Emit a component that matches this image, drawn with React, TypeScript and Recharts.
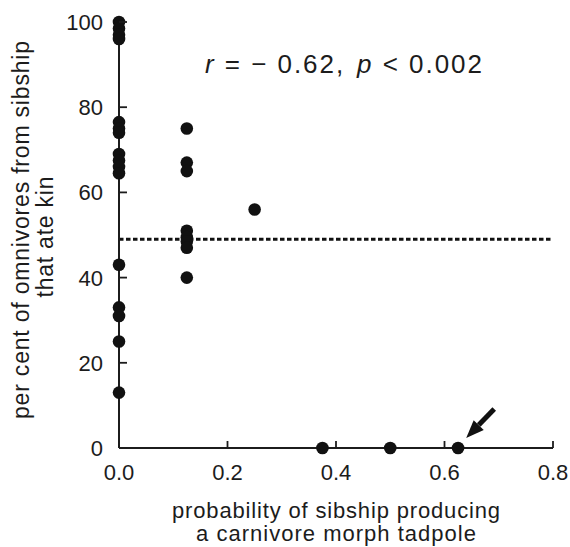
import { ScatterChart, Scatter, XAxis, YAxis, ReferenceLine, ReferenceDot } from "recharts";

const FONT = '"Liberation Sans", Arial, Helvetica, sans-serif';
const INK = "#1c1c1c";

// sibships with probability 0 of producing a carnivore
const pctAtZero = [100, 98.5, 97, 96, 76.5, 75, 74, 69, 67.5, 66, 64.5, 43, 33, 31, 25, 13];
// sibships with probability 0.125
const pctAtEighth = [75, 67, 65, 51, 49.5, 48.5, 47, 40];
// remaining sibships
const otherProb = [0.25, 0.375, 0.5, 0.625];
const otherPct = [56, 0, 0, 0];

const xTicks = [0, 0.2, 0.4, 0.6, 0.8];
const yTicks = [0, 20, 40, 60, 80, 100];
const meanLine = 49;

const points = [
  ...pctAtZero.map((y) => ({ x: 0, y })),
  ...pctAtEighth.map((y) => ({ x: 0.125, y })),
  ...otherProb.map((x, i) => ({ x, y: otherPct[i] })),
];

const Dot = (p: any) => <circle cx={p.cx} cy={p.cy} r={6.3} fill="#111" />;

const YTick = (p: any) => (
  <g>
    <line x1={p.x} x2={p.x + 8} y1={p.y} y2={p.y} stroke={INK} strokeWidth={1.8} />
    <text x={p.x - 16} y={p.y} dy="0.36em" textAnchor="end" fontSize={22} fill={INK} fontFamily={FONT}>
      {p.payload.value}
    </text>
  </g>
);

const XTick = (p: any) => (
  <g>
    <line x1={p.x} x2={p.x} y1={p.y} y2={p.y - 7} stroke={INK} strokeWidth={1.8} />
    <text x={p.x} y={p.y + 32} textAnchor="middle" fontSize={22} fill={INK} fontFamily={FONT}>
      {Number(p.payload.value).toFixed(1)}
    </text>
  </g>
);

const XLabel = (props: any) => {
  const vb = props.viewBox || { x: 119, y: 448, width: 434 };
  const cx = vb.x + vb.width / 2;
  return (
    <g fontSize={22} fill={INK} fontFamily={FONT}>
      <text x={cx} y={vb.y + 70} textAnchor="middle" textLength={328}>
        probability of sibship producing
      </text>
      <text x={cx} y={vb.y + 93} textAnchor="middle" textLength={280}>
        a carnivore morph tadpole
      </text>
    </g>
  );
};

const YLabel = () => (
  <g fontSize={23} fill={INK} fontFamily={FONT}>
    <text x={29} y={230} textAnchor="middle" transform="rotate(-90, 29, 230)" textLength={378}>
      per cent of omnivores from sibship
    </text>
    <text x={53} y={237} textAnchor="middle" transform="rotate(-90, 53, 237)" textLength={121}>
      that ate kin
    </text>
  </g>
);

const Stats = (p: any) => (
  <text x={p.cx} y={p.cy} fontSize={26} fill={INK} fontFamily={FONT} textLength={277}>
    <tspan fontStyle="italic">r</tspan>
    <tspan> = − 0.62,</tspan>
    <tspan dx={12} fontStyle="italic">p</tspan>
    <tspan> &lt; 0.002</tspan>
  </text>
);

const Arrow = (p: any) => {
  const tx = p.cx, ty = p.cy;
  const dx = 28, dy = -29;
  const len = Math.hypot(dx, dy);
  const ux = dx / len, uy = dy / len;
  const hx = tx + ux * 18, hy = ty + uy * 18;
  const nx = -uy, ny = ux;
  return (
    <g>
      <line x1={hx} y1={hy} x2={tx + dx} y2={ty + dy} stroke="#111" strokeWidth={5} />
      <polygon
        points={`${tx},${ty} ${hx + nx * 7},${hy + ny * 7} ${hx - nx * 7},${hy - ny * 7}`}
        fill="#111"
      />
    </g>
  );
};

export default function App() {
  return (
    <div style={{ position: "absolute", left: 0, top: 0, background: "#fff" }}>
      <ScatterChart width={570} height={547} margin={{ top: 22, right: 17, bottom: 0, left: 0 }}>
        <XAxis
          type="number"
          dataKey="x"
          domain={[0, 0.8]}
          ticks={xTicks}
          tick={<XTick />}
          tickLine={false}
          tickSize={0}
          tickMargin={0}
          height={99}
          axisLine={{ stroke: INK, strokeWidth: 2 }}
          label={<XLabel />}
        />
        <YAxis
          type="number"
          dataKey="y"
          domain={[0, 100]}
          ticks={yTicks}
          tick={<YTick />}
          tickLine={false}
          tickSize={0}
          tickMargin={0}
          width={119}
          axisLine={{ stroke: INK, strokeWidth: 2 }}
          label={<YLabel />}
        />
        <ReferenceLine y={meanLine} stroke="#111" strokeWidth={3} strokeDasharray="4.5 2.5" />
        <Scatter data={points} shape={<Dot />} isAnimationActive={false} />
        <ReferenceDot x={0.1585} y={88} shape={<Stats />} />
        <ReferenceDot x={0.64} y={2.35} shape={<Arrow />} />
      </ScatterChart>
    </div>
  );
}
